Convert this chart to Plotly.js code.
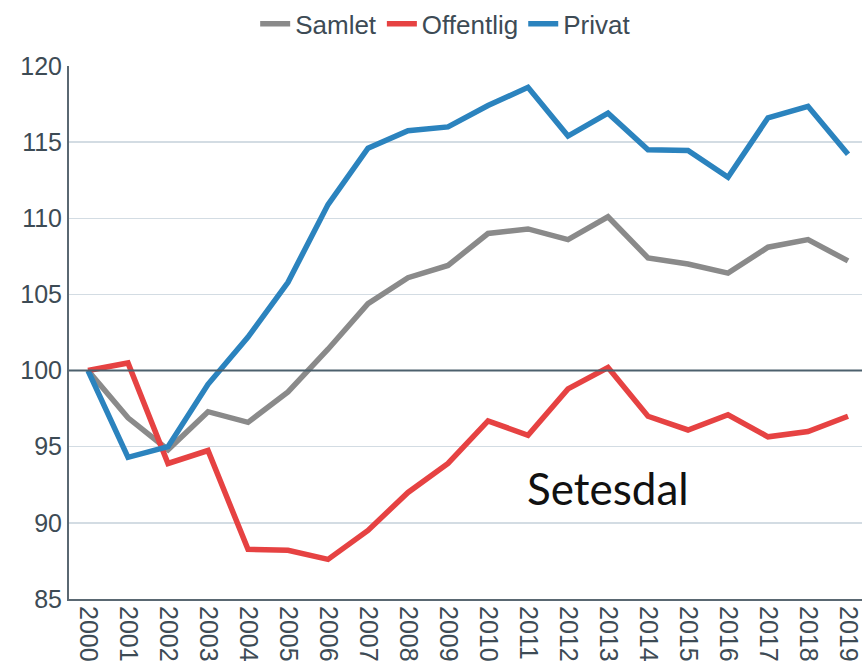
<!DOCTYPE html>
<html>
<head>
<meta charset="utf-8">
<script src="https://cdn.plot.ly/plotly-3.0.1.min.js"></script>
<style>html,body{margin:0;padding:0;background:#fff;}#chart{width:862px;height:664px;}</style>
</head>
<body>
<div id="chart"></div>
<script>
const years = ["2000","2001","2002","2003","2004","2005","2006","2007","2008","2009","2010","2011","2012","2013","2014","2015","2016","2017","2018","2019"];
const samlet = [100, 96.9, 94.8, 97.3, 96.6, 98.6, 101.4, 104.4, 106.1, 106.9, 109.0, 109.3, 108.6, 110.1, 107.4, 107.0, 106.4, 108.1, 108.6, 107.2];
const offentlig = [100, 100.5, 93.9, 94.75, 88.26, 88.2, 87.6, 89.5, 92.0, 93.9, 96.7, 95.75, 98.8, 100.2, 97.0, 96.1, 97.1, 95.65, 96.0, 97.0];
const privat = [100, 94.3, 95.0, 99.1, 102.2, 105.8, 110.9, 114.6, 115.75, 116.0, 117.4, 118.6, 115.4, 116.9, 114.5, 114.45, 112.7, 116.6, 117.35, 114.2];
const seriesNames = ["Samlet", "Offentlig", "Privat"];
const yTicks = [85, 90, 95, 100, 105, 110, 115, 120];
const baseline = 100;
const regionLabel = "Setesdal";

const colors = ["#8a8a8a", "#e64242", "#2b83be"];
const values = [samlet, offentlig, privat];
const traces = values.map((v, i) => ({
  type: "scatter", mode: "lines", x: years, y: v, name: seriesNames[i],
  line: {color: colors[i], width: 5.5}
}));

const layout = {
  width: 862, height: 664,
  margin: {l: 69, r: 0, t: 66, b: 65},
  paper_bgcolor: "#fff", plot_bgcolor: "#fff",
  font: {family: "Liberation Sans, Arial, sans-serif", color: "#3d4b55", size: 25},
  showlegend: true,
  legend: {orientation: "h", x: 0.475, xanchor: "center", yref: "container", y: 0.964, yanchor: "middle",
    font: {size: 26, color: "#3d4b55"}, itemwidth: 30, tracegroupgap: 0,
    bgcolor: "rgba(0,0,0,0)"},
  xaxis: {type: "category", range: [-0.475, 19.35], tickangle: 90,
    showgrid: false, showline: true, linecolor: "#5a6872", linewidth: 2,
    ticks: "", tickfont: {size: 25, color: "#3d4b55"}, fixedrange: true},
  yaxis: {range: [85, 120], tickvals: yTicks, ticktext: yTicks.map(String),
    showgrid: true, gridcolor: "#d3dce3", gridwidth: 1.5, zeroline: false,
    showline: true, linecolor: "#5a6872", linewidth: 2, ticks: "",
    tickfont: {size: 25, color: "#3d4b55"}, fixedrange: true},
  shapes: [{type: "line", xref: "paper", x0: 0, x1: 1, yref: "y", y0: baseline, y1: baseline,
    line: {color: "#4c606d", width: 2}, layer: "above"}],
  annotations: [{text: regionLabel, xref: "x", yref: "y", x: 13.0, y: 92.3, showarrow: false,
    font: {family: "Lato, Carlito, sans-serif", size: 44, color: "#111"}}]
};

Plotly.newPlot("chart", traces, layout, {displayModeBar: false, staticPlot: true}).then(() => {
  // keep baseline beneath the data lines
  const sl = document.querySelector(".shapelayer");
  if (sl) { const plot = document.querySelector(".cartesianlayer"); if (plot && plot.parentNode === sl.parentNode) sl.parentNode.insertBefore(sl, plot); }
});
</script>
</body>
</html>
